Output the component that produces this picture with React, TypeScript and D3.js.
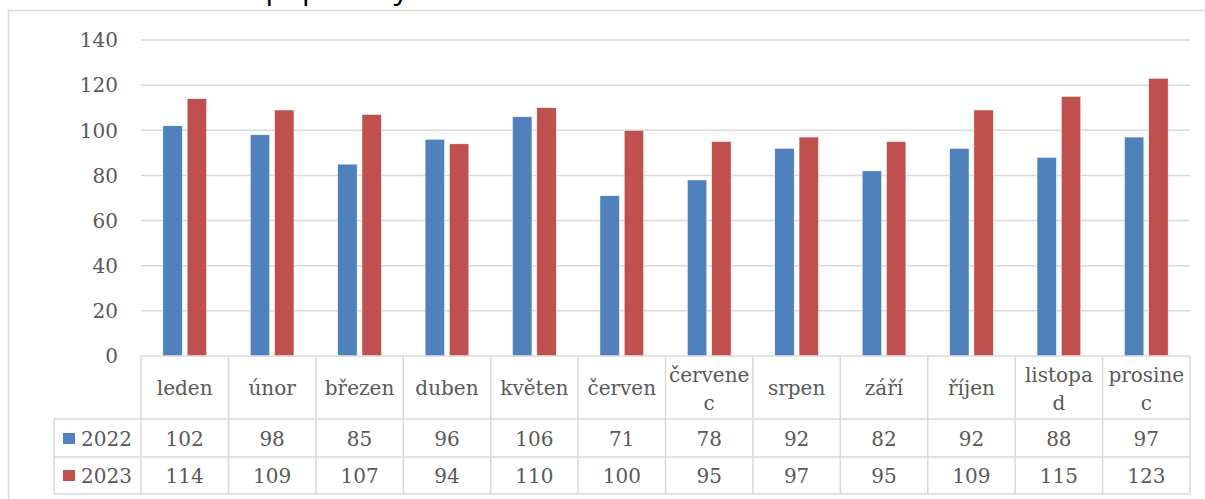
import React from "react";
import * as d3 from "d3";

const width = 1205;
const height = 499;

const months = [
  "leden", "únor", "březen", "duben", "květen", "červen",
  "červenec", "srpen", "září", "říjen", "listopad", "prosinec"
];
const seriesNames = ["2022", "2023"];
const values2022 = [102, 98, 85, 96, 106, 71, 78, 92, 82, 92, 88, 97];
const values2023 = [114, 109, 107, 94, 110, 100, 95, 97, 95, 109, 115, 123];
const yTicks = [0, 20, 40, 60, 80, 100, 120, 140];
const title = "Srovnání popularity";

const colors = ["#4F81BD", "#C0504D"];
const grid = "#D9D9D9";
const textColor = "#595959";
const font = "'DejaVu Serif', serif";

const plot = { left: 141, right: 1190, top: 40, bottom: 356 };
const rows = { header: 419, r1: 457, r2: 494, legendLeft: 54 };

// Excel wraps the long month names after 7 letters
const wrap = (s: string) => (s.length > 7 ? [s.slice(0, 7), s.slice(7)] : [s]);

export default function App() {
  const series = [values2022, values2023];

  const x0 = d3
    .scaleBand<string>()
    .domain(months)
    .range([plot.left, plot.right])
    .paddingInner(0.5)
    .paddingOuter(0.25);

  const x1 = d3
    .scaleBand<string>()
    .domain(seriesNames)
    .range([0, x0.bandwidth()])
    .paddingInner(0.2);

  const y = d3.scaleLinear().domain([0, 140]).range([plot.bottom, plot.top]);

  const step = x0.step();
  const colLeft = (i: number) => plot.left + i * step;

  return (
    <div style={{ position: "absolute", left: 0, top: 0 }}>
      <svg width={width} height={height} style={{ display: "block" }}>
        <rect x={0} y={0} width={width} height={height} fill="#fff" />
        <text
          x={135}
          y={-1}
          fontFamily="'Open Sans', sans-serif"
          fontSize={30}
          fontWeight={500}
          fill="#000"
        >
          {title}
        </text>
        <rect x={8.5} y={10.5} width={width + 10} height={height + 10} fill="none" stroke={grid} strokeWidth={1.5} />

        {/* gridlines and y labels */}
        {yTicks.map(t => (
          <g key={t}>
            {t > 0 && (
              <line x1={plot.left} x2={plot.right} y1={y(t)} y2={y(t)} stroke={grid} strokeWidth={1.5} />
            )}
            <text x={118} y={y(t) + 7.3} textAnchor="end" fontFamily={font} fontSize={20} fill={textColor}>
              {t}
            </text>
          </g>
        ))}

        {/* bars */}
        {months.map((m, i) => (
          <g key={m} transform={`translate(${x0(m)},0)`}>
            {series.map((vals, s) => (
              <rect
                key={s}
                x={x1(seriesNames[s])}
                y={y(vals[i])}
                width={x1.bandwidth()}
                height={y(0) - y(vals[i])}
                fill={colors[s]}
                stroke="#fff"
                strokeWidth={0.5}
              />
            ))}
          </g>
        ))}

        {/* data table */}
        <g stroke={grid} strokeWidth={1.5} fill="none">
          <line x1={plot.left} x2={plot.right} y1={plot.bottom} y2={plot.bottom} />
          <line x1={rows.legendLeft} x2={plot.right} y1={rows.header} y2={rows.header} />
          <line x1={rows.legendLeft} x2={plot.right} y1={rows.r1} y2={rows.r1} />
          <line x1={rows.legendLeft} x2={plot.right} y1={rows.r2} y2={rows.r2} />
          <line x1={rows.legendLeft} x2={rows.legendLeft} y1={rows.header} y2={rows.r2} />
          {d3.range(months.length + 1).map(i => (
            <line key={i} x1={colLeft(i)} x2={colLeft(i)} y1={plot.bottom} y2={rows.r2} />
          ))}
        </g>

        <g fontFamily={font} fontSize={20} fill={textColor} textAnchor="middle">
          {months.map((m, i) => {
            const lines = wrap(m);
            const cx = colLeft(i) + step / 2;
            const base = lines.length > 1 ? 382 : 395;
            return (
              <g key={m}>
                {lines.map((l, k) => (
                  <text key={k} x={cx} y={base + k * 28}>
                    {l}
                  </text>
                ))}
                <text x={cx} y={446}>{values2022[i]}</text>
                <text x={cx} y={483}>{values2023[i]}</text>
              </g>
            );
          })}
        </g>

        {/* legend keys */}
        {seriesNames.map((name, s) => (
          <g key={name}>
            <rect x={63} y={433 + s * 37} width={12} height={11} fill={colors[s]} />
            <text x={81} y={446 + s * 37} fontFamily={font} fontSize={20} fill={textColor}>
              {name}
            </text>
          </g>
        ))}
      </svg>
    </div>
  );
}
